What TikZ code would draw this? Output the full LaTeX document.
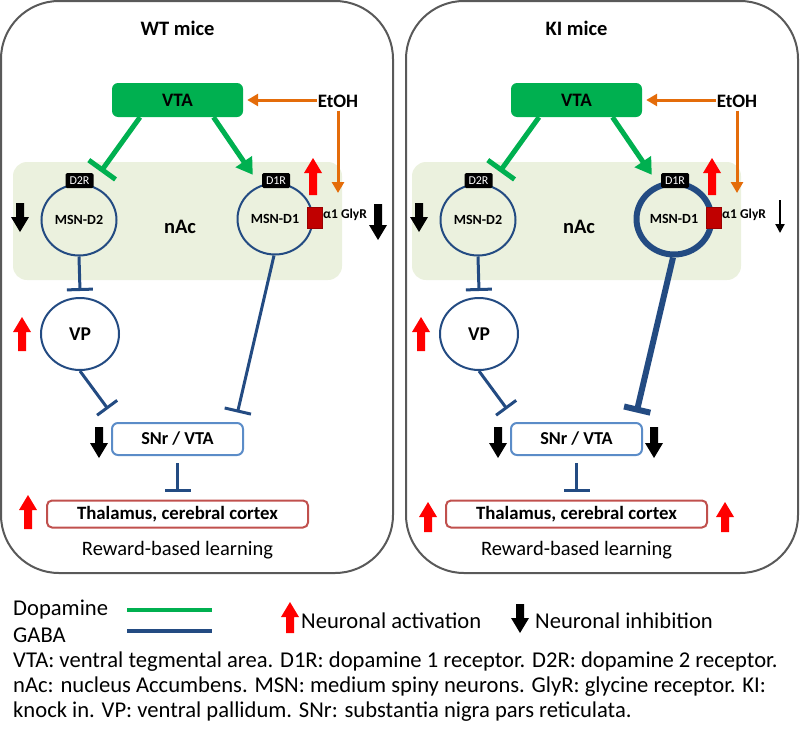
\documentclass[tikz,border=0pt]{standalone}
\usepackage{fontspec}
\setmainfont{Carlito}
\usetikzlibrary{shapes.geometric,arrows.meta,calc}
\definecolor{dopag}{HTML}{00B050}
\definecolor{gabab}{HTML}{234B82}
\definecolor{etohor}{HTML}{E46C0A}
\definecolor{nacfill}{HTML}{EBF1DE}
\definecolor{snrblue}{HTML}{5B8CC8}
\definecolor{thalred}{HTML}{C0504D}
\definecolor{glyred}{HTML}{C00000}
\definecolor{actred}{HTML}{FF0000}
\definecolor{panelgray}{HTML}{595959}
\newcommand\fsz[1]{\fontsize{#1}{#1}\selectfont}
\newcommand\blkup[4]{\fill[#4] (#1,#2) -- ({#1+9},{#2+15}) -- ({#1+4},{#2+15}) -- ({#1+4},#3) -- ({#1-4},#3) -- ({#1-4},{#2+15}) -- ({#1-9},{#2+15}) -- cycle;}
\newcommand\blkdown[4]{\fill[#4] (#1,#3) -- ({#1+9},{#3-15}) -- ({#1+4},{#3-15}) -- ({#1+4},#2) -- ({#1-4},#2) -- ({#1-4},{#3-15}) -- ({#1-9},{#3-15}) -- cycle;}
\tikzset{
  panel/.style={draw=panelgray, line width=2pt, rounded corners=58pt, minimum width=392pt, minimum height=572pt, inner sep=0pt},
  vtabox/.style={fill=dopag, rounded corners=6pt, minimum width=131pt, minimum height=34pt, font=\fsz{19}\bfseries, inner sep=0pt},
  etoh/.style={font=\fsz{19}\bfseries, inner sep=1pt},
  nacbg/.style={fill=nacfill, rounded corners=14pt, minimum width=329pt, minimum height=118pt, inner sep=0pt},
  title/.style={font=\fsz{20.5}\bfseries, inner sep=0pt},
  msn/.style={ellipse, draw=gabab, line width=2pt, minimum width=75pt, minimum height=71pt, font=\fsz{14}\bfseries, inner sep=0pt},
  d1ring/.style={},
  recbox/.style={fill=black, text=white, rounded corners=1.5pt, minimum width=28pt, minimum height=15pt, inner sep=0pt, font=\fsz{12}},
  glyr/.style={fill=glyred, draw=glyred!80!black, line width=0.6pt, minimum width=15pt, minimum height=21pt, inner sep=0pt},
  glytext/.style={font=\fsz{13.5}\bfseries, inner sep=0pt},
  vpnode/.style={ellipse, draw=gabab, line width=2pt, minimum width=78pt, minimum height=72pt, font=\fsz{19.5}\bfseries, inner sep=0pt},
  snrbox/.style={draw=snrblue, line width=2pt, rounded corners=6pt, minimum width=131pt, minimum height=32pt, font=\fsz{18.2}\bfseries, inner sep=0pt},
  thalbox/.style={draw=thalred, line width=2pt, rounded corners=5pt, minimum width=261pt, minimum height=27pt, font=\fsz{18.8}\bfseries, inner sep=0pt},
  reward/.style={font=\fsz{20.5}, inner sep=0pt},
  dopa/.style={draw=dopag, line width=5pt},
  gaba/.style={draw=gabab, line width=3pt},
  d1gaba/.style={},
  etoharr/.style={draw=etohor, line width=3pt, -{Triangle[width=12pt,length=11pt]}},
  legtext/.style={font=\fsz{22.6}, inner sep=0pt, anchor=base west},
}
\newcommand\panelcontent[1]{%
  \node[title] (title) at (177.5,28) {#1};
  \node[nacbg] (nac) at (177.5,221) {};
  \node[vtabox] (vta) at (177.5,100) {VTA};
  \node[etoh] (etoh) at (338,101) {EtOH};
  \node[font=\fsz{20.5}\bfseries, inner sep=0pt] (naclabel) at (180,227) {nAc};
  \node[msn] (msn2) at (79,220) {MSN-D2};
  \node[msn, d1ring] (msn1) at (275,219) {MSN-D1};
  \node[recbox] (d2r) at (79.5,180.5) {D2R};
  \node[recbox] (d1r) at (276,180.5) {D1R};
  \node[glyr] (glyr) at (314.5,217.5) {};
  \node[glytext, anchor=west] (glylabel) at (323,215) {α1 GlyR};
  \node[vpnode] (vp) at (80,334) {VP};
  \node[snrbox] (snr) at (177.5,439) {SNr / VTA};
  \node[thalbox] (thal) at (177.5,514) {Thalamus, cerebral cortex};
  \node[reward] (reward) at (177.5,550) {Reward-based learning};
  \coordinate (etohend) at (338,193);
  % dopamine
  \draw[dopa, -{Bar[width=33pt]}] ([xshift=-37.5pt]vta.south) -- ($(d2r.north east)+(7,-1)$);
  \draw[dopa, -{Triangle[width=19pt,length=16pt]}] ([xshift=36pt]vta.south) -- ($(d1r.north west)+(-9,2)$);
  % ethanol
  \draw[etoharr, shorten >=4pt] (etoh.west |- vta.east) -- (vta.east);
  \draw[etoharr] ([yshift=-2pt]etoh.south) -- (etohend);
  % GABA
  \draw[gaba, -{Bar[width=26pt]}] (msn2.south) -- ([yshift=6pt]vp.north);
  \draw[gaba, -{Bar[width=25pt]}] (vp.south) -- ($(snr.north west)+(-3,-13)$);
  \draw[gaba, d1gaba, -{Bar[width=27pt]}] ([xshift=-1pt]msn1.south) -- ($(snr.north east)+(-6.5,-9.5)$);
  \draw[gaba, -{Bar[width=26pt]}] ([yshift=-7pt]snr.south) -- ([yshift=8pt]thal.north);
  % activity arrows
  \blkup{313}{158}{195}{actred}
  \blkdown{20}{203}{232}{black}
  \blkup{22}{317}{351}{actred}
  \blkdown{99}{427}{458}{black}
}
\begin{document}
\begin{tikzpicture}[x=1pt, y=-1pt]
\useasboundingbox (0,0) rectangle (800,728);
\node[panel] (wtpanel) at (197,287) {};
\node[panel] (kipanel) at (602,287) {};
\begin{scope}[name prefix=wt-]
  \panelcontent{WT mice}
  \blkdown{378}{204}{240}{black}
  \blkup{28}{495}{529}{actred}
\end{scope}
\begin{scope}[xshift=399pt, name prefix=ki-, d1ring/.style={line width=6pt}, d1gaba/.style={line width=6pt}]
  \panelcontent{KI mice}
  \coordinate (thinA) at (381,200);
  \coordinate (thinB) at (381,233);
  \draw[line width=2pt, -{Triangle[width=9pt,length=9pt]}] (thinA) -- (thinB);
  \blkdown{255}{427}{458}{black}
  \blkup{29}{502}{532}{actred}
  \blkup{326}{502}{532}{actred}
\end{scope}
% legend
\node[legtext] (dopl) at (13,615) {Dopamine};
\node[legtext] (gabal) at (13,642) {GABA};
\coordinate (dopA) at (127,610);
\coordinate (dopB) at (212,610);
\coordinate (gabA) at (127,631);
\coordinate (gabB) at (212,631);
\draw[dopa, line width=4pt] (dopA) -- (dopB);
\draw[gaba, line width=4pt] (gabA) -- (gabB);
\blkup{290}{602}{633}{actred}
\node[legtext] (actl) at (301,628) {Neuronal activation};
\blkdown{520}{604}{633}{black}
\node[legtext] (inhl) at (535,628) {Neuronal inhibition};
\node[legtext] (cap1) at (13,667) {VTA: ventral tegmental area. D1R: dopamine 1 receptor. D2R: dopamine 2 receptor.};
\node[legtext] (cap2) at (13,692) {nAc: nucleus Accumbens. MSN: medium spiny neurons. GlyR: glycine receptor. KI:};
\node[legtext] (cap3) at (13,717) {knock in. VP: ventral pallidum. SNr: substantia nigra pars reticulata.};
\end{tikzpicture}
\end{document}
